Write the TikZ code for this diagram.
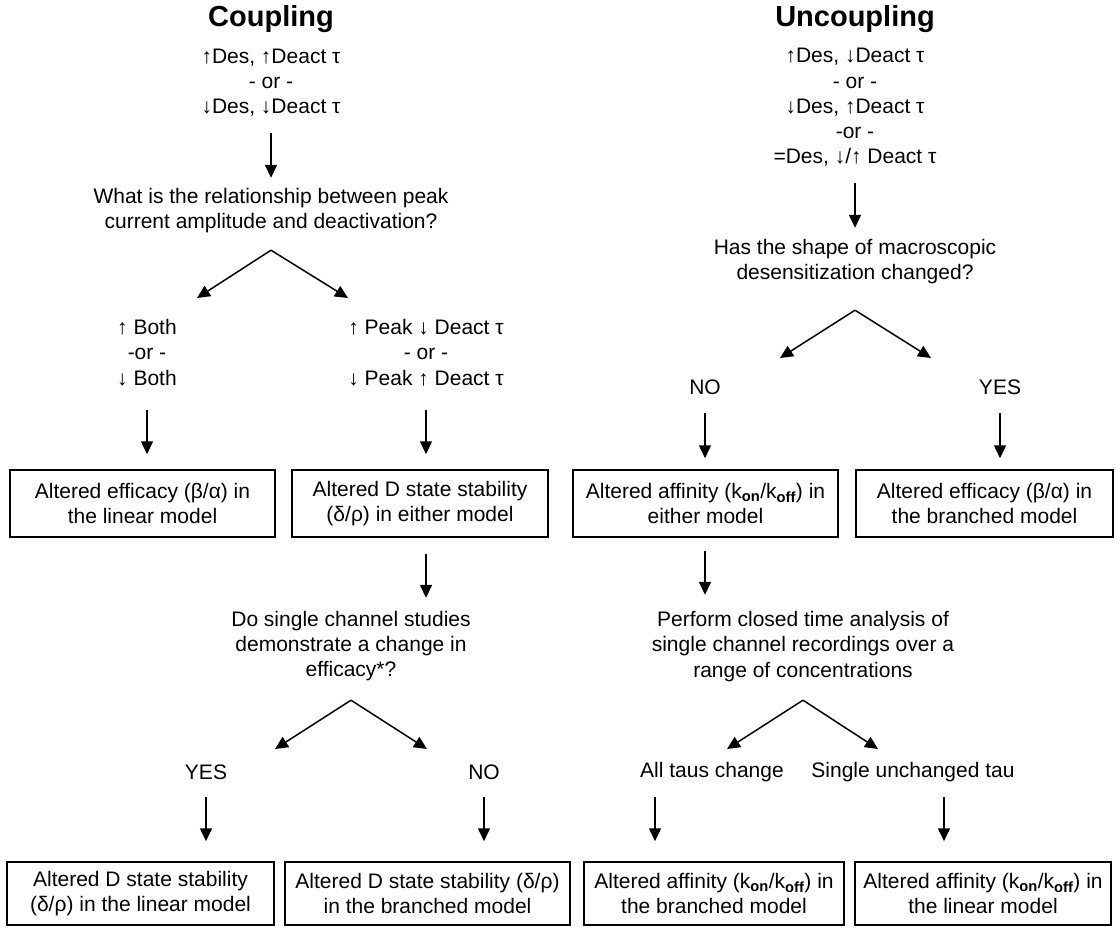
\documentclass[tikz,border=0pt]{standalone}
\usepackage{fontspec}
\setmainfont{Liberation Sans}
\usetikzlibrary{arrows.meta}
\begin{document}
\begin{tikzpicture}[x=1pt,y=-1pt,
  txt/.style={align=center,inner sep=0pt,font=\fontsize{21}{25.3}\selectfont},
  ttl/.style={inner sep=0pt,font=\fontsize{29}{34}\selectfont\bfseries},
  box/.style={draw,line width=1.5pt,align=center,inner sep=0pt,minimum height=67pt,font=\fontsize{21}{25}\selectfont},
  arr/.style={line width=1.5pt,-{Triangle[length=13pt,width=12pt]}},
]
\useasboundingbox (0,0) rectangle (1117,930);
\newcommand{\kon}{k\textsubscript{\textbf{on}}/k\textsubscript{\textbf{off}}}
% ---------------- Coupling ----------------
\node[ttl] (t1) at (271,19) {Coupling};
\node[txt,minimum height=101pt] (c1) at (271,82.5) {↑Des, ↑Deact τ\\- or -\\↓Des, ↓Deact τ};
\node[txt,minimum height=79pt] (q1) at (271,210.5) {What is the relationship between peak\\current amplitude and deactivation?};
\draw[arr,shorten >=-7pt] (c1) -- (q1);
\coordinate (r1l) at (197,298);
\coordinate (r1r) at (348,298);
\draw[arr] (q1.south) -- (r1l);
\draw[arr] (q1.south) -- (r1r);
\node[txt,minimum height=115pt] (b1) at (147,352.5) {↑ Both\\-or -\\↓ Both};
\node[txt,minimum height=115pt] (b2) at (426,352.5) {↑ Peak ↓ Deact τ\\- or -\\↓ Peak ↑ Deact τ};
\node[box,minimum width=265pt] (bx1) at (142.5,503.5) {Altered efficacy (β/α) in\\the linear model};
\node[box,minimum width=256pt] (bx2) at (420,503.5) {Altered D state stability\\(δ/ρ) in either model};
\draw[arr,shorten >=15pt] (b1.south) -- (b1.south |- bx1.north);
\draw[arr,shorten >=15pt] (b2.south) -- (b2.south |- bx2.north);
\node[txt,minimum height=108pt] (q2) at (351,646) {Do single channel studies\\demonstrate a change in\\efficacy*?};
\draw[arr,shorten <=16pt,shorten >=-6pt] (b2.south |- bx2.south) -- (b2.south |- q2.north);
\coordinate (r2l) at (275,749);
\coordinate (r2r) at (427,749);
\draw[arr] (q2.south) -- (r2l);
\draw[arr] (q2.south) -- (r2r);
\node[txt,minimum height=50pt] (yes1) at (206,772) {YES};
\node[txt,minimum height=50pt] (no1) at (484,772) {NO};
\node[box,minimum width=267pt,minimum height=63pt] (bx5) at (140.5,893.5) {Altered D state stability\\(δ/ρ) in the linear model};
\node[box,minimum width=285pt,minimum height=63pt] (bx6) at (427.5,893.5) {Altered D state stability (δ/ρ)\\in the branched model};
\draw[arr,shorten >=20pt] (yes1.south) -- (yes1.south |- bx5.north);
\draw[arr,shorten >=20pt] (no1.south) -- (no1.south |- bx6.north);
% ---------------- Uncoupling ----------------
\node[ttl] (t2) at (855,19) {Uncoupling};
\node[txt,minimum height=151pt] (c2) at (855,107.5) {↑Des, ↓Deact τ\\- or -\\↓Des, ↑Deact τ\\-or -\\=Des, ↓/↑ Deact τ};
\node[txt,minimum height=97pt] (q3) at (855,261.5) {Has the shape of macroscopic\\desensitization changed?};
\draw[arr,shorten >=-15pt] (c2) -- (q3);
\coordinate (r3l) at (780,358);
\coordinate (r3r) at (931,358);
\draw[arr] (q3.south) -- (r3l);
\draw[arr] (q3.south) -- (r3r);
\node[txt,minimum height=52pt] (no2) at (705,387) {NO};
\node[txt,minimum height=52pt] (yes2) at (1000,387) {YES};
\node[box,minimum width=265pt] (bx3) at (705.5,503.5) {Altered affinity (\kon) in\\either model};
\node[box,minimum width=257pt] (bx4) at (984.5,503.5) {Altered efficacy (β/α) in\\the branched model};
\draw[arr,shorten >=11pt] (no2.south) -- (no2.south |- bx3.north);
\draw[arr,shorten >=11pt] (yes2.south) -- (yes2.south |- bx4.north);
\node[txt,minimum height=107pt] (q4) at (803,646.5) {Perform closed time analysis of\\single channel recordings over a\\range of concentrations};
\draw[arr,shorten <=13pt,shorten >=-2pt] (no2.south |- bx3.south) -- (no2.south |- q4.north);
\coordinate (r4l) at (727,749);
\coordinate (r4r) at (878,749);
\draw[arr] (q4.south) -- (r4l);
\draw[arr] (q4.south) -- (r4r);
\node[txt] (all) at (712,772) {All taus change};
\node[txt] (sgl) at (913,772) {Single unchanged tau};
\node[box,minimum width=260pt,minimum height=63pt] (bx7) at (714,893.5) {Altered affinity (\kon) in\\the branched model};
\node[box,minimum width=256pt,minimum height=63pt] (bx8) at (983,893.5) {Altered affinity (\kon) in\\the linear model};
\coordinate (a7) at (655,797);
\coordinate (a8) at (944,797);
\draw[arr,shorten >=20pt] (a7) -- (a7 |- bx7.north);
\draw[arr,shorten >=20pt] (a8) -- (a8 |- bx8.north);
\end{tikzpicture}
\end{document}
